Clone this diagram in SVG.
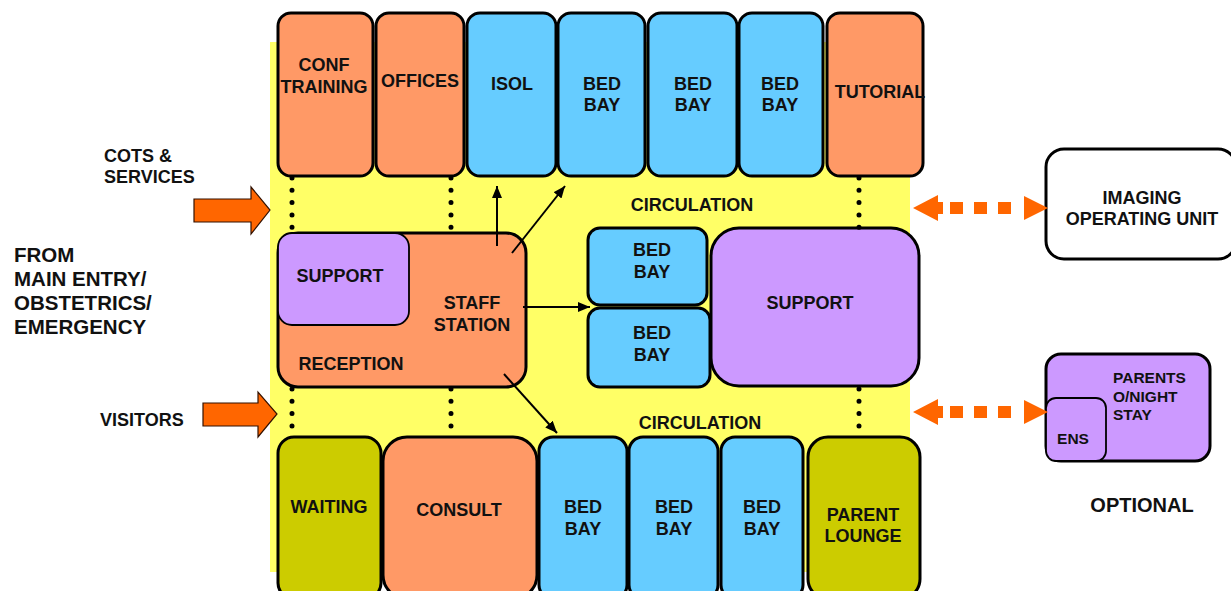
<svg xmlns="http://www.w3.org/2000/svg" width="1231" height="591" viewBox="0 0 1231 591">
  <style>
    text { font-family: "Liberation Sans", Arial, sans-serif; font-weight: bold; fill: #111; }
    .lbl { font-size: 18px; text-anchor: middle; }
    .room { stroke: #000; stroke-width: 3; }
    .inner { stroke: #000; stroke-width: 1.8; }
    .salmon { fill: #FF9966; }
    .blue { fill: #66CCFF; }
    .purple { fill: #CC99FF; }
    .olive { fill: #CCCC00; }
    .dots { stroke: #000; stroke-width: 5; stroke-linecap: round; stroke-dasharray: 0 12.3; fill: none; }
    .flow { stroke: #000; stroke-width: 2; fill: none; marker-end: url(#head); }
    .link { stroke: #FF6600; stroke-width: 12; stroke-dasharray: 13 11; fill: none; }
    .entry { fill: #FF6600; stroke: #331100; stroke-width: 1.2; }
  </style>
  <defs>
    <marker id="head" viewBox="0 0 12 10" refX="12" refY="5" markerWidth="12" markerHeight="10" markerUnits="userSpaceOnUse" orient="auto">
      <path d="M0,0 L12,5 L0,10 Z" fill="#000"/>
    </marker>
  </defs>

  <rect width="1231" height="591" fill="#fff"/>
  <!-- circulation zone -->
  <rect id="circulation-zone" x="270" y="42" width="640" height="530" fill="#FFFF66"/>

  <!-- top row -->
  <g id="conf-training"><rect class="room salmon" x="278" y="13" width="95" height="163" rx="13"/>
    <text class="lbl" x="324" y="71">CONF</text><text class="lbl" x="324" y="93">TRAINING</text></g>
  <g id="offices"><rect class="room salmon" x="376" y="13" width="88" height="163" rx="13"/>
    <text class="lbl" x="420" y="87">OFFICES</text></g>
  <g id="isol"><rect class="room blue" x="467" y="13" width="89" height="163" rx="13"/>
    <text class="lbl" x="512" y="90">ISOL</text></g>
  <g id="bed-bay-t1"><rect class="room blue" x="558" y="13" width="87" height="163" rx="13"/>
    <text class="lbl" x="602" y="90">BED</text><text class="lbl" x="602" y="111">BAY</text></g>
  <g id="bed-bay-t2"><rect class="room blue" x="648" y="13" width="89" height="163" rx="13"/>
    <text class="lbl" x="693" y="90">BED</text><text class="lbl" x="693" y="111">BAY</text></g>
  <g id="bed-bay-t3"><rect class="room blue" x="739" y="13" width="84" height="163" rx="13"/>
    <text class="lbl" x="780" y="90">BED</text><text class="lbl" x="780" y="111">BAY</text></g>
  <g id="tutorial"><rect class="room salmon" x="827" y="13" width="96" height="163" rx="13"/>
    <text class="lbl" x="880" y="98">TUTORIAL</text></g>

  <!-- circulation labels -->
  <text class="lbl" x="692" y="211">CIRCULATION</text>
  <text class="lbl" x="700" y="429">CIRCULATION</text>

  <!-- reception / staff station -->
  <g id="reception">
    <rect class="room salmon" x="278" y="233" width="248" height="154" rx="20"/>
    <rect class="inner purple" x="278" y="233" width="131" height="92" rx="14"/>
    <text class="lbl" x="340" y="282">SUPPORT</text>
    <text class="lbl" x="472" y="309">STAFF</text><text class="lbl" x="472" y="331">STATION</text>
    <text class="lbl" x="351" y="370">RECEPTION</text>
  </g>

  <!-- middle bays and support -->
  <g id="bed-bay-m1"><rect class="room blue" x="588" y="228" width="119" height="77" rx="12"/>
    <text class="lbl" x="652" y="256">BED</text><text class="lbl" x="652" y="278">BAY</text></g>
  <g id="bed-bay-m2"><rect class="room blue" x="588" y="308" width="122" height="79" rx="12"/>
    <text class="lbl" x="652" y="339">BED</text><text class="lbl" x="652" y="361">BAY</text></g>
  <g id="support"><rect class="room purple" x="711" y="228" width="208" height="158" rx="28"/>
    <text class="lbl" x="810" y="309">SUPPORT</text></g>

  <!-- bottom row -->
  <g id="waiting"><rect class="room olive" x="278" y="437" width="103" height="162" rx="16"/>
    <text class="lbl" x="329" y="513">WAITING</text></g>
  <g id="consult"><rect class="room salmon" x="383" y="437" width="154" height="162" rx="24"/>
    <text class="lbl" x="459" y="516">CONSULT</text></g>
  <g id="bed-bay-b1"><rect class="room blue" x="539" y="437" width="88" height="162" rx="14"/>
    <text class="lbl" x="583" y="513">BED</text><text class="lbl" x="583" y="535">BAY</text></g>
  <g id="bed-bay-b2"><rect class="room blue" x="629" y="437" width="89" height="162" rx="14"/>
    <text class="lbl" x="674" y="513">BED</text><text class="lbl" x="674" y="535">BAY</text></g>
  <g id="bed-bay-b3"><rect class="room blue" x="721" y="437" width="82" height="162" rx="14"/>
    <text class="lbl" x="762" y="513">BED</text><text class="lbl" x="762" y="535">BAY</text></g>
  <g id="parent-lounge"><rect class="room olive" x="808" y="437" width="112" height="162" rx="20"/>
    <text class="lbl" x="863" y="521">PARENT</text><text class="lbl" x="863" y="542">LOUNGE</text></g>

  <!-- outside units -->
  <g id="imaging"><rect class="room" fill="#fff" x="1046" y="149" width="190" height="110" rx="18"/>
    <text class="lbl" x="1142" y="204">IMAGING</text><text class="lbl" x="1142" y="225">OPERATING UNIT</text></g>
  <g id="parents-stay">
    <rect class="room purple" x="1046" y="354" width="164" height="107" rx="15"/>
    <rect class="inner purple" x="1046" y="398" width="60" height="63" rx="10"/>
    <text x="1113" y="383" font-size="15.5">PARENTS</text>
    <text x="1113" y="402" font-size="15.5">O/NIGHT</text>
    <text x="1113" y="420" font-size="15.5">STAY</text>
    <text x="1073" y="444" font-size="15.5" text-anchor="middle">ENS</text>
  </g>
  <text x="1142" y="512" font-size="20" text-anchor="middle">OPTIONAL</text>

  <!-- entry labels -->
  <text x="104" y="162" font-size="18">COTS &amp;</text>
  <text x="104" y="183" font-size="18">SERVICES</text>
  <text x="14" y="262" font-size="20.5">FROM</text>
  <text x="14" y="286" font-size="20.5">MAIN ENTRY/</text>
  <text x="14" y="310" font-size="20.5">OBSTETRICS/</text>
  <text x="14" y="334" font-size="20.5">EMERGENCY</text>
  <text x="100" y="426" font-size="18">VISITORS</text>

  <!-- connectors -->
  <g id="connectors">
    <!-- entry arrows -->
    <path class="entry" d="M194,199 L251,199 L251,187 L270,210 L251,234 L251,222 L194,222 Z"/>
    <path class="entry" d="M203,403 L258,403 L258,392 L277,414 L258,437 L258,426 L203,426 Z"/>
    <!-- links through circulation -->
    <line class="dots" x1="292" y1="178" x2="292" y2="230"/>
    <line class="dots" x1="451" y1="178" x2="451" y2="230"/>
    <line class="dots" x1="859" y1="178" x2="859" y2="230"/>
    <line class="dots" x1="292" y1="389" x2="292" y2="437"/>
    <line class="dots" x1="451" y1="389" x2="451" y2="437"/>
    <line class="dots" x1="859" y1="389" x2="859" y2="437"/>
    <!-- staff station sightlines -->
    <line class="flow" x1="497" y1="246" x2="497" y2="186"/>
    <line class="flow" x1="512" y1="253" x2="565" y2="186"/>
    <line class="flow" x1="523" y1="307" x2="590" y2="307"/>
    <line class="flow" x1="504" y1="374" x2="557" y2="433"/>
    <!-- optional unit links -->
    <g fill="#FF6600">
      <line class="link" x1="950" y1="208" x2="1020" y2="208"/>
      <path d="M913,208 L938,195 L938,202 L943,202 L943,214 L938,214 L938,221 Z"/>
      <path d="M1048,208 L1024,196 L1024,220 Z"/>
      <line class="link" x1="950" y1="412" x2="1020" y2="412"/>
      <path d="M913,412 L938,399 L938,406 L943,406 L943,418 L938,418 L938,425 Z"/>
      <path d="M1048,412 L1024,400 L1024,424 Z"/>
    </g>
  </g>
</svg>
